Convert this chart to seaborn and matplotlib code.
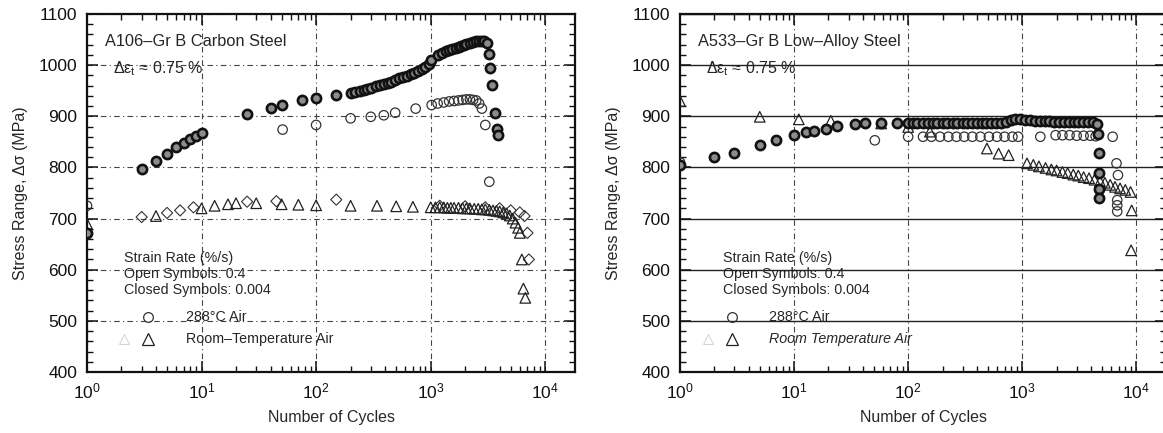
# Cyclic stress response of A106 and A533 steels (stress range vs number of cycles)

import matplotlib
matplotlib.use("Agg")
import matplotlib.pyplot as plt
import seaborn as sns
from matplotlib.ticker import LogLocator, MultipleLocator, NullFormatter

sns.set_style("ticks")
plt.rcParams['font.family'] = ['Liberation Sans', 'DejaVu Sans']
plt.rcParams['mathtext.fontset'] = 'custom'
plt.rcParams['mathtext.rm'] = 'Liberation Sans'
plt.rcParams['mathtext.it'] = 'Liberation Sans:italic'

# ---- A106-Gr B carbon steel ----
# 288C air, 0.004 %/s (closed circles)
a106_hot_slow_n = [1, 3, 4, 5, 6, 7, 8, 9, 10, 25, 40, 50, 75, 100, 150,
                   200, 220, 240, 260, 280, 300, 330, 360, 390, 420, 450, 490, 530, 570,
                   620, 670, 720, 780, 840, 900, 960, 1000,
                   1150, 1250, 1350, 1450, 1550, 1650, 1750, 1850, 1950, 2050, 2200, 2350,
                   2500, 2650, 2800, 2950, 3100, 3250, 3300, 3400, 3650, 3780, 3850]
a106_hot_slow_s = [672, 797, 813, 827, 839, 848, 855, 862, 868, 904, 917, 922, 932, 936, 941,
                   946, 947, 949, 951, 953, 956, 959, 962, 964, 966, 968, 971, 974, 976,
                   979, 982, 985, 988, 992, 996, 1003, 1010,
                   1020, 1024, 1027, 1030, 1032, 1034, 1036, 1038, 1040, 1042, 1044, 1046,
                   1047, 1048, 1048, 1047, 1043, 1022, 995, 961, 906, 876, 864]
# 288C air, 0.4 %/s (open circles)
a106_hot_fast_n = [1, 51, 100, 200, 300, 390, 490, 740, 1020, 1150, 1300, 1450, 1600, 1750,
                   1900, 2050, 2200, 2350, 2500, 2650, 2800, 3000, 3250]
a106_hot_fast_s = [725, 874, 883, 896, 899, 902, 907, 915, 922, 925, 927, 929, 930, 931,
                   932, 933, 933, 932, 931, 925, 915, 883, 772]
# room-temperature air, 0.4 %/s (open triangles)
a106_rt_fast_n = [1, 4, 10, 13, 17, 20, 30, 50, 70, 100, 200, 340, 500, 700, 1000, 1100,
                  1200, 1300, 1400, 1500, 1600, 1750, 1900, 2050, 2200, 2400, 2600, 2800,
                  3000, 3250, 3500, 3750, 4000, 4300, 4600, 4900, 5200, 5500, 5800, 6000,
                  6250, 6450, 6700]
a106_rt_fast_s = [690, 705, 720, 725, 728, 730, 730, 728, 727, 726, 725, 725, 724, 723,
                  722, 722, 722, 722, 721, 721, 721, 721, 720, 720, 720, 719, 719, 718,
                  718, 717, 716, 715, 714, 712, 710, 706, 700, 692, 682, 672, 620, 563, 545]
# room-temperature air, 0.004 %/s (diamonds)
a106_rt_slow_n = [3, 5, 6.5, 8.5, 25, 45, 150, 1200, 2000, 3000, 4000, 5000, 6000, 6600,
                  7000, 7200]
a106_rt_slow_s = [703, 711, 716, 722, 733, 734, 737, 725, 724, 722, 720, 716, 712, 705,
                  672, 620]

# ---- A533-Gr B low-alloy steel ----
a533_hot_slow_n = [1, 2, 3, 5, 7, 10, 12.8, 15, 19, 24, 34, 42, 58, 80, 100, 110, 120, 135,
                   150, 165, 180, 200, 220, 245, 270, 300, 330, 365, 400, 440, 485, 535,
                   590, 650, 715, 790, 870, 960, 1060, 1170, 1290, 1420, 1570, 1730, 1900,
                   2100, 2320, 2560, 2820, 3100, 3420, 3770, 4150, 4500, 4650, 4680, 4700,
                   4700, 4700]
a533_hot_slow_s = [805, 820, 829, 844, 853, 863, 870, 872, 876, 881, 884, 886, 886, 886,
                   886, 886, 887, 887, 887, 887, 887, 887, 887, 887, 887, 887, 887, 887,
                   887, 887, 887, 887, 887, 887, 888, 892, 895, 895, 893, 892, 891, 890,
                   890, 890, 889, 889, 889, 889, 888, 888, 888, 888, 888, 885, 866, 829,
                   790, 757, 741]
a533_hot_fast_n = [1, 51, 100, 135, 160, 190, 225, 265, 310, 365, 430, 510, 600, 700, 820,
                   920, 1440, 1960, 2250, 2600, 3000, 3450, 3950, 4400, 6200, 6700, 6900,
                   6800, 6800, 6800]
a533_hot_fast_s = [810, 853, 860, 860, 860, 860, 860, 860, 860, 860, 860, 860, 860, 860,
                   860, 860, 860, 863, 863, 863, 862, 862, 862, 861, 860, 808, 785, 736,
                   726, 714]
a533_rt_fast_n = [1, 5, 11, 21, 58, 100, 155, 490, 620, 760, 1100, 1250, 1400, 1600, 1800,
                  2000, 2250, 2500, 2800, 3100, 3450, 3850, 4300, 4800, 5300, 5900, 6500,
                  7200, 8000, 8900, 9100, 9000]
a533_rt_fast_s = [930, 899, 894, 891, 886, 879, 870, 837, 827, 824, 808, 805, 802, 799,
                  796, 794, 791, 789, 786, 784, 781, 779, 776, 773, 770, 766, 762, 759,
                  756, 752, 716, 638]

panels = [
    ("A106\u2013Gr B Carbon Steel", "Room\u2013Temperature Air", "normal"),
    ("A533\u2013Gr B Low\u2013Alloy Steel", "Room Temperature Air", "italic"),
]

fig = plt.figure(figsize=(11.63, 4.33), dpi=100)
W, H = 1163, 433
ax1 = fig.add_axes([87 / W, 1 - 372 / H, 488 / W, 358 / H])
ax2 = fig.add_axes([680 / W, 1 - 372 / H, 486 / W, 358 / H])

closed_kw = dict(marker='o', s=44, color='#8c8c8c', edgecolor='#111111', linewidth=1.9,
                 zorder=4, legend=False)
open_kw = dict(marker='o', s=46, facecolor='none', edgecolor='#333333', linewidth=0.9,
               zorder=3, legend=False)
tri_kw = dict(marker='^', s=58, facecolor='none', edgecolor='#222222', linewidth=0.9,
              zorder=3, legend=False)
dia_kw = dict(marker='D', s=32, facecolor='none', edgecolor='#333333', linewidth=0.8,
              zorder=3, legend=False)

# left panel
sns.scatterplot(x=a106_rt_slow_n, y=a106_rt_slow_s, ax=ax1, **dia_kw)
sns.scatterplot(x=a106_rt_fast_n, y=a106_rt_fast_s, ax=ax1, **tri_kw)
sns.scatterplot(x=a106_hot_fast_n, y=a106_hot_fast_s, ax=ax1, **open_kw)
sns.scatterplot(x=a106_hot_slow_n, y=a106_hot_slow_s, ax=ax1, **closed_kw)

# right panel
sns.scatterplot(x=a533_rt_fast_n, y=a533_rt_fast_s, ax=ax2, **tri_kw)
sns.scatterplot(x=a533_hot_fast_n, y=a533_hot_fast_s, ax=ax2, **open_kw)
sns.scatterplot(x=a533_hot_slow_n, y=a533_hot_slow_s, ax=ax2, **closed_kw)

for i, (ax, (title, rt_label, rt_style)) in enumerate(zip([ax1, ax2], panels)):
    ax.set_xscale('log')
    ax.set_xlim(1, 10 ** 4.26)
    ax.set_ylim(400, 1100)
    ax.xaxis.set_major_locator(LogLocator(base=10, numticks=10))
    ax.xaxis.set_minor_locator(LogLocator(base=10, subs=range(2, 10), numticks=20))
    ax.xaxis.set_minor_formatter(NullFormatter())
    ax.yaxis.set_major_locator(MultipleLocator(100))
    ax.yaxis.set_minor_locator(MultipleLocator(20))
    ax.tick_params(which='both', direction='in', top=True, right=True, colors='#111111')
    ax.tick_params(which='major', length=8, width=1.1, labelsize=12.5, pad=7)
    ax.tick_params(which='minor', length=4, width=1.0)
    for sp in ax.spines.values():
        sp.set_linewidth(1.6)
        sp.set_color('#111111')
    if i == 0:
        ax.grid(True, which='major', axis='both', color='#444444', linewidth=0.8,
                linestyle=(0, (5, 3, 1, 3)))
    else:
        ax.grid(True, which='major', axis='y', color='#222222', linewidth=1.0,
                linestyle='-')
        ax.grid(True, which='major', axis='x', color='#444444', linewidth=0.8,
                linestyle=(0, (5, 3, 1, 3)))
    ax.set_axisbelow(True)
    ax.set_xlabel("Number of Cycles", fontsize=11.5, labelpad=6)
    ax.set_ylabel("Stress Range, \u0394\u03c3 (MPa)", fontsize=11.5, labelpad=8)

    ax.text(0.037, 0.922, title, transform=ax.transAxes, fontsize=11.8, va='center')
    ax.text(0.053, 0.848, "\u0394\u03b5$_\\mathregular{t}$ \u2248 0.75 %",
            transform=ax.transAxes, fontsize=11.5, va='center')

    tx = 0.076 if i == 0 else 0.088
    fs = 10.3
    ax.text(tx, 0.318, "Strain Rate (%/s)", transform=ax.transAxes, fontsize=fs, va='center')
    ax.text(tx, 0.273, "Open Symbols: 0.4", transform=ax.transAxes, fontsize=fs, va='center')
    ax.text(tx, 0.228, "Closed Symbols: 0.004", transform=ax.transAxes, fontsize=fs,
            va='center')
    mx = 0.125 if i == 0 else 0.107
    lx = 0.203 if i == 0 else 0.183
    ax.plot([mx], [0.155], marker='o', ms=7, mfc='none', mec='#333333', mew=0.9,
            transform=ax.transAxes)
    ax.plot([mx], [0.092], marker='^', ms=8, mfc='none', mec='#222222', mew=0.9,
            transform=ax.transAxes)
    ax.plot([mx - 0.05], [0.092], marker='^', ms=7, mfc='none', mec='#cccccc', mew=0.6,
            transform=ax.transAxes)
    ax.text(lx, 0.155, "288\u00b0C Air", transform=ax.transAxes, fontsize=fs, va='center')
    ax.text(lx, 0.092, rt_label, transform=ax.transAxes, fontsize=fs, va='center',
            style=rt_style)

fig.savefig("out.png", dpi=100)
